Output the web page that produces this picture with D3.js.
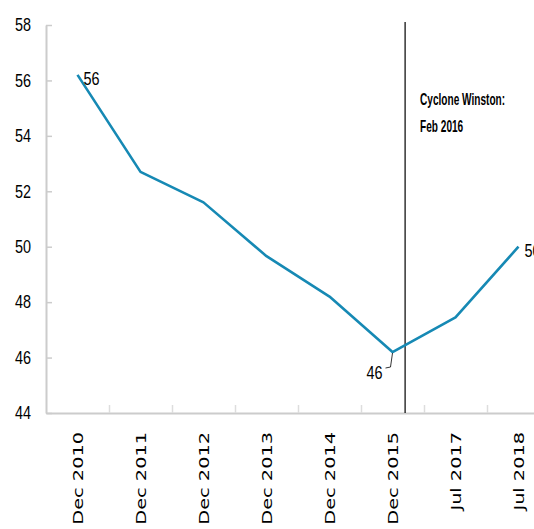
<!DOCTYPE html>
<html>
<head>
<meta charset="utf-8">
<script src="https://cdn.jsdelivr.net/npm/d3@7"></script>
<style>
  html, body { margin: 0; padding: 0; background: #fff; overflow: hidden; }
  .narrow { font-family: "Liberation Sans", Arial, sans-serif; }
  .xlab { font-family: "DejaVu Sans", Verdana, sans-serif; font-size: 14px; fill: #000; }
</style>
</head>
<body>
<div id="chart"></div>
<script>
// values
const categories = ['Dec 2010', 'Dec 2011', 'Dec 2012', 'Dec 2013', 'Dec 2014', 'Dec 2015', 'Jul 2017', 'Jul 2018'];
const values = [56.2, 52.7, 51.6, 49.66, 48.2, 46.2, 47.45, 50.0];
const yTicks = [44, 46, 48, 50, 52, 54, 56, 58];
const labelled = [0, 5, 7];            // points carrying a value label
const eventIndex = 5.2;                // Feb 2016, between Dec 2015 and Jul 2017
const eventText = ['Cyclone Winston:', 'Feb 2016'];

const W = 534, H = 529;
const mLeft = 46, mTop = 25, mBottom = 413;
const step = 63;
const sq = 0.8;   // horizontal squeeze to mimic the condensed face

const svg = d3.select('#chart').append('svg').attr('width', W).attr('height', H);

const x = d3.scaleBand().domain(categories).range([mLeft, mLeft + step * categories.length]).padding(0);
const xIdx = d3.scaleLinear().domain([0, categories.length]).range([mLeft, mLeft + step * categories.length]);
const y = d3.scaleLinear().domain([44, 58]).range([mBottom, mTop]);

// y axis
const yAxis = d3.axisLeft(y).tickValues(yTicks).tickSize(-6).tickPadding(15).tickSizeOuter(0);
const gy = svg.append('g').attr('transform', `translate(${mLeft},0)`).call(yAxis);
gy.select('.domain').attr('stroke', '#cccccc').attr('stroke-width', 2);
gy.selectAll('.tick line').attr('stroke', '#cccccc').attr('stroke-width', 1.5);
gy.selectAll('.tick text').attr('class', 'narrow').attr('font-size', 18).attr('fill', '#000')
  .attr('x', -15 / sq).attr('transform', `scale(${sq},1)`);

// x axis (ticks between categories)
const xAxis = d3.axisBottom(xIdx).tickValues(d3.range(1, categories.length)).tickSize(-8).tickSizeOuter(0).tickFormat('');
const gx = svg.append('g').attr('transform', `translate(0,${mBottom})`).call(xAxis);
gx.select('.domain').attr('stroke', '#cccccc').attr('stroke-width', 2);
gx.selectAll('.tick line').attr('stroke', '#dddddd').attr('stroke-width', 1.5);

svg.append('g').selectAll('text').data(categories).join('text')
  .attr('class', 'xlab')
  .attr('text-anchor', 'end')
  .attr('transform', d => `translate(${x(d) + x.bandwidth() / 2 + 5},432) rotate(-90) scale(1.38,1)`)
  .text(d => d);

// event line
const ex = xIdx(eventIndex + 0.5);
svg.append('line')
  .attr('x1', ex).attr('x2', ex)
  .attr('y1', 22).attr('y2', mBottom)
  .attr('stroke', '#000').attr('stroke-width', 1.2);

svg.append('g').selectAll('text').data(eventText).join('text')
  .attr('class', 'narrow')
  .attr('font-size', 16).attr('font-weight', 'bold')
  .attr('transform', (d, i) => `translate(${ex + 15},${105 + i * 27}) scale(0.63,1)`)
  .text(d => d);

// series line
const pts = values.map((v, i) => ({ cat: categories[i], v, i }));
const px = d => x(d.cat) + x.bandwidth() / 2;
const line = d3.line().x(px).y(d => y(d.v));
svg.append('path').datum(pts)
  .attr('fill', 'none').attr('stroke', '#1689b4').attr('stroke-width', 2.6)
  .attr('stroke-linejoin', 'round')
  .attr('d', line);

// value labels
labelled.forEach(i => {
  const d = pts[i];
  const t = svg.append('text').attr('class', 'narrow').attr('font-size', 18).attr('fill', '#000')
    .text(d3.format('.0f')(d.v));
  if (i === 5) {
    // label below with a leader line
    t.attr('text-anchor', 'end').attr('transform', `translate(${px(d) - 10},${y(d.v) + 27}) scale(${sq},1)`);
    svg.append('path')
      .attr('d', `M${px(d)},${y(d.v) + 1}L${px(d) - 2},${y(d.v) + 15}L${px(d) - 7},${y(d.v) + 16}`)
      .attr('fill', 'none').attr('stroke', '#000').attr('stroke-width', 0.8);
  } else {
    t.attr('transform', `translate(${px(d) + 6},${y(d.v) + 10}) scale(${sq},1)`);
  }
});
</script>
</body>
</html>
